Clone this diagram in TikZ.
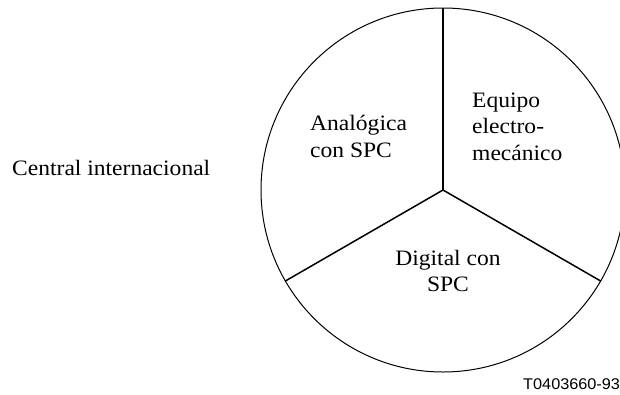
\documentclass[tikz,border=0pt]{standalone}
\usepackage{fontspec}
\setmainfont[FakeStretch=1.07]{Liberation Serif}
\newfontfamily\labsans[FakeStretch=1.05]{Liberation Sans}
\begin{document}
\begin{tikzpicture}[x=1pt,y=-1pt,
  lab/.style={anchor=base west,inner sep=0pt,font=\fontsize{22}{27}\selectfont},
  labc/.style={anchor=base,inner sep=0pt,font=\fontsize{22}{27}\selectfont},
  radial/.style={line width=1.5pt}]
\useasboundingbox (0,0) rectangle (620,394);
\node[circle,draw,line width=1pt,minimum size=364pt,inner sep=0pt] (c) at (443,190) {};
\draw[radial] (c.center) -- (c.90);
\draw[radial] (c.center) -- (c.210);
\draw[radial] (c.center) -- (c.330);
\node[lab] (ci) at (12,175) {Central internacional};
\node[lab] (a1) at (310,130) {Analógica};
\node[lab] (a2) at (310,157) {con SPC};
\node[lab] (e1) at (472,107) {Equipo};
\node[lab] (e2) at (472,133) {electro-};
\node[lab] (e3) at (472,160) {mecánico};
\node[labc] (d1) at (448,265) {Digital con};
\node[labc] (d2) at (448,291) {SPC};
\node[anchor=base west,inner sep=0pt,font=\labsans\fontsize{15.5}{18}\selectfont] (id) at (523,389) {T0403660-93};
\end{tikzpicture}
\end{document}
